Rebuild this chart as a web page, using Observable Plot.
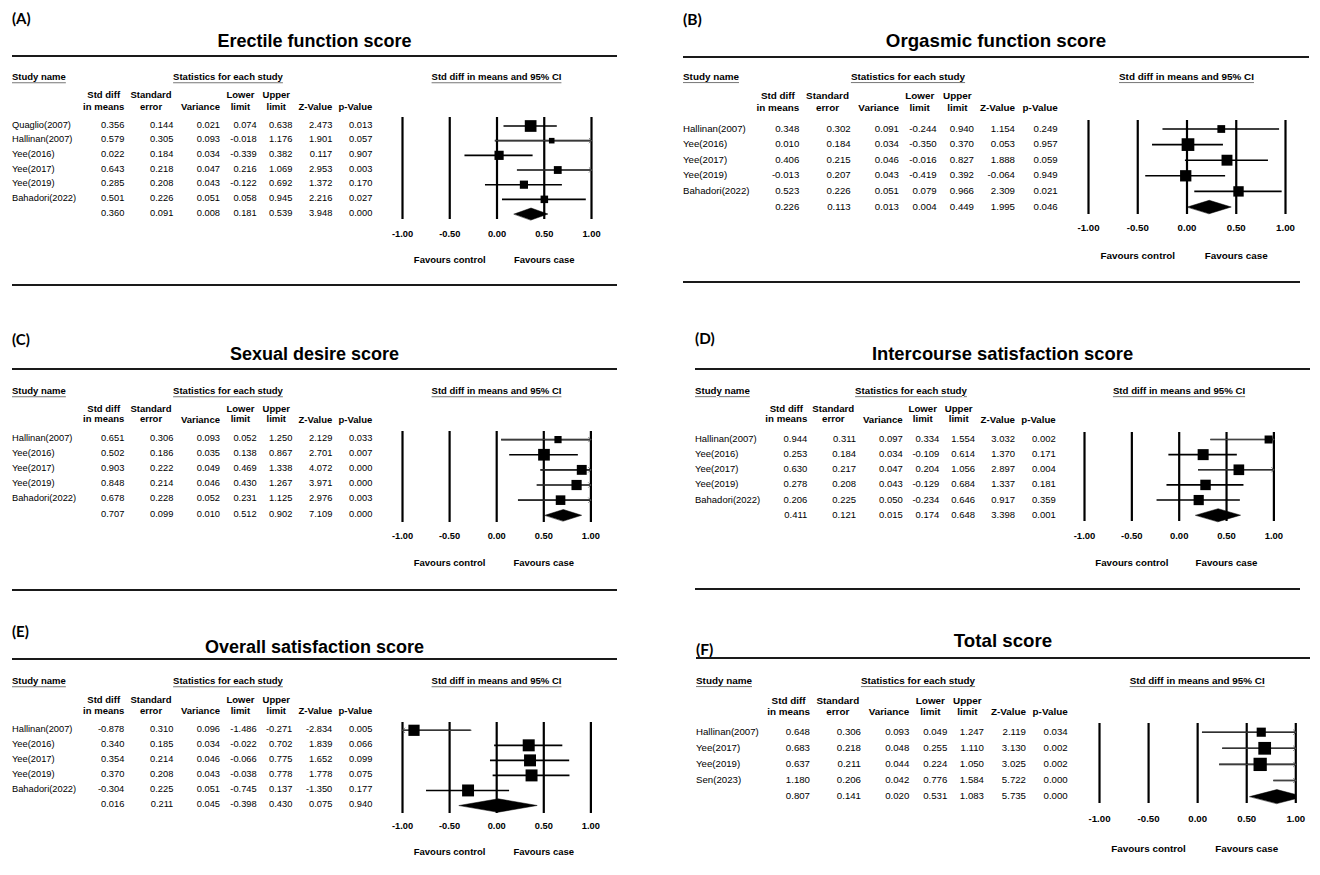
<!DOCTYPE html>
<html><head><meta charset="utf-8">
<script src="https://cdn.jsdelivr.net/npm/d3@7"></script>
<script src="https://cdn.jsdelivr.net/npm/@observablehq/plot@0.6"></script>
<style>
html,body{margin:0;padding:0;background:#fff;}
#root{position:relative;width:1320px;height:875px;overflow:hidden;font-family:"Liberation Sans",Arial,sans-serif;color:#000;}
.t{position:absolute;white-space:nowrap;line-height:1;}
.u{text-decoration:underline;text-decoration-color:#777;text-underline-offset:2px;}
.rule{position:absolute;background:#1a1a1a;}
</style></head><body><div id="root"></div>
<script>
// ---------------- DATA ----------------
const panelLabels = ["(A)", "(B)", "(C)", "(D)", "(E)", "(F)"];
const panelTitles = ["Erectile function score", "Orgasmic function score", "Sexual desire score",
  "Intercourse satisfaction score", "Overall satisfaction score", "Total score"];
const columnHeaders = [["Std diff", "in means"], ["Standard", "error"], ["", "Variance"], ["Lower", "limit"],
  ["Upper", "limit"], ["", "Z-Value"], ["", "p-Value"]];
const studyNames = [
  ["Quaglio(2007)", "Hallinan(2007)", "Yee(2016)", "Yee(2017)", "Yee(2019)", "Bahadori(2022)"],
  ["Hallinan(2007)", "Yee(2016)", "Yee(2017)", "Yee(2019)", "Bahadori(2022)"],
  ["Hallinan(2007)", "Yee(2016)", "Yee(2017)", "Yee(2019)", "Bahadori(2022)"],
  ["Hallinan(2007)", "Yee(2016)", "Yee(2017)", "Yee(2019)", "Bahadori(2022)"],
  ["Hallinan(2007)", "Yee(2016)", "Yee(2017)", "Yee(2019)", "Bahadori(2022)"],
  ["Hallinan(2007)", "Yee(2017)", "Yee(2019)", "Sen(2023)"]];
// last entry of each list = pooled estimate
const stdDiff = [
  [0.356, 0.579, 0.022, 0.643, 0.285, 0.501, 0.360],
  [0.348, 0.010, 0.406, -0.013, 0.523, 0.226],
  [0.651, 0.502, 0.903, 0.848, 0.678, 0.707],
  [0.944, 0.253, 0.630, 0.278, 0.206, 0.411],
  [-0.878, 0.340, 0.354, 0.370, -0.304, 0.016],
  [0.648, 0.683, 0.637, 1.180, 0.807]];
const stdError = [
  [0.144, 0.305, 0.184, 0.218, 0.208, 0.226, 0.091],
  [0.302, 0.184, 0.215, 0.207, 0.226, 0.113],
  [0.306, 0.186, 0.222, 0.214, 0.228, 0.099],
  [0.311, 0.184, 0.217, 0.208, 0.225, 0.121],
  [0.310, 0.185, 0.214, 0.208, 0.225, 0.211],
  [0.306, 0.218, 0.211, 0.206, 0.141]];
const variance = [
  [0.021, 0.093, 0.034, 0.047, 0.043, 0.051, 0.008],
  [0.091, 0.034, 0.046, 0.043, 0.051, 0.013],
  [0.093, 0.035, 0.049, 0.046, 0.052, 0.010],
  [0.097, 0.034, 0.047, 0.043, 0.050, 0.015],
  [0.096, 0.034, 0.046, 0.043, 0.051, 0.045],
  [0.093, 0.048, 0.044, 0.042, 0.020]];
const lowerLimit = [
  [0.074, -0.018, -0.339, 0.216, -0.122, 0.058, 0.181],
  [-0.244, -0.350, -0.016, -0.419, 0.079, 0.004],
  [0.052, 0.138, 0.469, 0.430, 0.231, 0.512],
  [0.334, -0.109, 0.204, -0.129, -0.234, 0.174],
  [-1.486, -0.022, -0.066, -0.038, -0.745, -0.398],
  [0.049, 0.255, 0.224, 0.776, 0.531]];
const upperLimit = [
  [0.638, 1.176, 0.382, 1.069, 0.692, 0.945, 0.539],
  [0.940, 0.370, 0.827, 0.392, 0.966, 0.449],
  [1.250, 0.867, 1.338, 1.267, 1.125, 0.902],
  [1.554, 0.614, 1.056, 0.684, 0.646, 0.648],
  [-0.271, 0.702, 0.775, 0.778, 0.137, 0.430],
  [1.247, 1.110, 1.050, 1.584, 1.083]];
const zValue = [
  [2.473, 1.901, 0.117, 2.953, 1.372, 2.216, 3.948],
  [1.154, 0.053, 1.888, -0.064, 2.309, 1.995],
  [2.129, 2.701, 4.072, 3.971, 2.976, 7.109],
  [3.032, 1.370, 2.897, 1.337, 0.917, 3.398],
  [-2.834, 1.839, 1.652, 1.778, -1.350, 0.075],
  [2.119, 3.130, 3.025, 5.722, 5.735]];
const pValue = [
  [0.013, 0.057, 0.907, 0.003, 0.170, 0.027, 0.000],
  [0.249, 0.957, 0.059, 0.949, 0.021, 0.046],
  [0.033, 0.007, 0.000, 0.000, 0.003, 0.000],
  [0.002, 0.171, 0.004, 0.181, 0.359, 0.001],
  [0.005, 0.066, 0.099, 0.075, 0.177, 0.940],
  [0.034, 0.002, 0.002, 0.000, 0.000]];
// relative weights (%), estimated from the square sizes
const relWeight = [
  [31.3, 7.1, 19.3, 14.0, 15.3, 12.9],
  [10.5, 28.0, 20.7, 22.2, 18.7],
  [10.7, 28.4, 20.3, 21.6, 19.1],
  [12.5, 23.6, 22.2, 21.4, 20.3],
  [18.0, 20.6, 20.5, 20.5, 20.4],
  [13.8, 26.7, 29.1, 30.5]];
const xTicks = [-1, -0.5, 0, 0.5, 1];
const favourLabels = ["Favours control", "Favours case"];
const favourAt = [-0.5, 0.5];

// ---------------- LAYOUT (positions only) ----------------
const colsL = [124.3, 173.3, 220, 256.7, 292.3, 332.3, 372.3];
const layout = [
  {x0: 12, s: 1, labelY: 18, titleY: 40.5, ruleY: 56, ruleX2: 617, headY: 76.5, hdrY: [94.5, 106.5],
   rowY0: 125.5, rowStep: 14.67, cols: colsL, statsCx: 228, xm1: 402, xp1: 591, vTop: 117, vBot: 219,
   tickY: 233.3, favY: 259, bottomRuleY: 285, bottomRuleX2: 617, sqMax: 11.7, dh: 6},
  {x0: 683, s: 1.04, labelY: 20, titleY: 41, ruleY: 57, ruleX2: 1309, headY: 77, hdrY: [96, 107.5],
   rowY0: 128.5, rowStep: 15.6, cols: [799.3, 850.7, 899, 936.7, 974, 1015, 1057.7], statsCx: 908,
   xm1: 1088, xp1: 1285, vTop: 120, vBot: 214, tickY: 227.7, favY: 255, bottomRuleY: 281.7, bottomRuleX2: 1300,
   sqMax: 12.7, dh: 6.7},
  {x0: 12, s: 1, labelY: 339, titleY: 354, ruleY: 369.3, ruleX2: 617, headY: 390.5, hdrY: [409, 419.7],
   rowY0: 438.8, rowStep: 15.14, cols: colsL, statsCx: 228, xm1: 402.3, xp1: 590.7, vTop: 430.7, vBot: 521.7,
   tickY: 535, favY: 561.7, bottomRuleY: 590, bottomRuleX2: 617, sqMax: 11.7, dh: 5.8},
  {x0: 695, s: 1.02, labelY: 339, titleY: 354, ruleY: 369, ruleX2: 1310, headY: 390.5, hdrY: [409, 419.7],
   rowY0: 439, rowStep: 15.14, cols: [807.3, 856, 902.7, 939.3, 975, 1015, 1055.7], statsCx: 911,
   xm1: 1084.3, xp1: 1273.7, vTop: 432, vBot: 521, tickY: 535, favY: 562, bottomRuleY: 589, bottomRuleX2: 1300,
   sqMax: 11, dh: 6.5},
  {x0: 12, s: 1, labelY: 631, titleY: 647, ruleY: 659.3, ruleX2: 617, headY: 680.5, hdrY: [699.5, 710.5],
   rowY0: 729.5, rowStep: 15.04, cols: colsL, statsCx: 228, xm1: 402.3, xp1: 590.7, vTop: 721.7, vBot: 812.7,
   tickY: 825, favY: 851, bottomRuleY: null, sqMax: 12, dh: 6.7},
  {x0: 696, s: 1.04, labelY: 650, titleY: 641, ruleY: 658.3, ruleX2: 1310, headY: 681, hdrY: [700.5, 712],
   rowY0: 732, rowStep: 16.1, cols: [810, 861, 909.3, 947.3, 984, 1026, 1067.7], statsCx: 918,
   xm1: 1099, xp1: 1295.3, vTop: 723.3, vBot: 803.3, tickY: 819, favY: 848.3, bottomRuleY: null, sqMax: 13.6, dh: 7}
];
const hdrShift = [0, -1.7, 0, -2.3, -2.3, 0, 0];

const root = document.getElementById("root");
function addText(str, x, y, o = {}) {
  const el = document.createElement("div");
  el.className = "t" + (o.underline ? " u" : "");
  el.textContent = str;
  el.style.left = x + "px";
  el.style.top = y + "px";
  el.style.fontSize = (o.size || 9.3) + "px";
  if (o.weight) el.style.fontWeight = o.weight;
  if (o.family) el.style.fontFamily = o.family;
  const tx = o.anchor === "middle" ? "-50%" : o.anchor === "end" ? "-100%" : "0";
  el.style.transform = `translate(${tx}, -50%)`;
  root.appendChild(el);
  return el;
}
function addRule(x1, x2, y) {
  const el = document.createElement("div");
  el.className = "rule";
  el.style.left = x1 + "px";
  el.style.width = (x2 - x1) + "px";
  el.style.top = (y - 1.1) + "px";
  el.style.height = "2.3px";
  root.appendChild(el);
}
const fmt = v => v.toFixed(3);

layout.forEach((L, p) => {
  const s = L.s;
  const reg = 9.3 * s, bold = 9.5 * s;
  addText(panelLabels[p], L.x0, L.labelY, {size: 15 * s, weight: 700, family: "Lato, 'Open Sans', sans-serif"});
  addText(panelTitles[p], (L.x0 + L.ruleX2) / 2, L.titleY, {size: 18 * s, weight: 700, anchor: "middle"});
  addRule(L.x0, L.ruleX2, L.ruleY);
  if (L.bottomRuleY != null) addRule(L.x0, L.bottomRuleX2, L.bottomRuleY);
  addText("Study name", L.x0, L.headY, {size: bold, weight: 700, underline: true});
  addText("Statistics for each study", L.statsCx, L.headY, {size: bold, weight: 700, underline: true, anchor: "middle"});
  addText("Std diff in means and 95% CI", (L.xm1 + L.xp1) / 2, L.headY, {size: bold, weight: 700, underline: true, anchor: "middle"});
  // column headers
  const lh = L.hdrY[1] - L.hdrY[0];
  columnHeaders.forEach((h, c) => {
    const x = L.cols[c] + hdrShift[c] * s;
    if (h[0] === "") {
      addText(h[1], x, L.hdrY[1], {size: bold, weight: 700, anchor: "end"});
    } else {
      const el = document.createElement("div");
      el.className = "t";
      el.style.left = x + "px";
      el.style.top = (L.hdrY[0] - lh / 2) + "px";
      el.style.lineHeight = lh + "px";
      el.style.fontSize = bold + "px";
      el.style.fontWeight = 700;
      el.style.textAlign = "center";
      el.style.transform = "translate(-100%, 0)";
      h.forEach(line => { const d = document.createElement("div"); d.textContent = line; el.appendChild(d); });
      root.appendChild(el);
    }
  });
  // table rows
  const cols = [stdDiff[p], stdError[p], variance[p], lowerLimit[p], upperLimit[p], zValue[p], pValue[p]];
  const nRows = stdDiff[p].length;
  for (let i = 0; i < nRows; i++) {
    const y = L.rowY0 + i * L.rowStep;
    if (i < studyNames[p].length) addText(studyNames[p][i], L.x0, y, {size: reg});
    cols.forEach((arr, c) => addText(fmt(arr[i]), L.cols[c], y, {size: reg, anchor: "end"}));
  }

  // ---------- forest plot ----------
  const n = studyNames[p].length;
  const rows = studyNames[p].map((name, i) => ({
    i, name, smd: stdDiff[p][i], lo: lowerLimit[p][i], hi: upperLimit[p][i], w: relWeight[p][i]
  }));
  const pooled = {i: n, smd: stdDiff[p][n], lo: lowerLimit[p][n], hi: upperLimit[p][n]};
  const hh = L.dh / L.rowStep;
  const dia = [];
  if (pooled.lo < -1) {
    const f = (-1 - pooled.lo) / (pooled.smd - pooled.lo);
    dia.push({x: -1, y: n + hh * f});
    dia.push({x: -1, y: n - hh * f});
  } else dia.push({x: pooled.lo, y: n});
  dia.push({x: pooled.smd, y: n - hh});
  if (pooled.hi > 1) {
    const f = (pooled.hi - 1) / (pooled.hi - pooled.smd);
    dia.push({x: 1, y: n - hh * f});
    dia.push({x: 1, y: n + hh * f});
  } else dia.push({x: pooled.hi, y: n});
  dia.push({x: pooled.smd, y: n + hh});

  const svgLeft = L.xm1 - 45, svgRight = L.xp1 + 45;
  const svgTop = L.vTop - 12, svgBottom = L.favY + 12;
  const clampX = v => Math.max(-1, Math.min(1, v));
  const maxW = d3.max(relWeight[p]);
  const chart = Plot.plot({
    width: svgRight - svgLeft,
    height: svgBottom - svgTop,
    marginLeft: L.xm1 - svgLeft,
    marginRight: svgRight - L.xp1,
    marginTop: L.vTop - svgTop,
    marginBottom: svgBottom - L.vBot,
    style: {fontFamily: "'Liberation Sans', Arial, sans-serif", overflow: "visible", background: "transparent"},
    x: {domain: [-1, 1], axis: null},
    y: {domain: [0, 1], range: [L.rowY0 - svgTop, L.rowY0 + L.rowStep - svgTop], axis: null},
    r: {type: "sqrt", domain: [0, maxW], range: [0, L.sqMax / Math.sqrt(Math.PI)]},
    marks: [
      Plot.ruleX(xTicks, {stroke: "#000", strokeWidth: 2.2}),
      Plot.ruleY(rows, {y: "i", x1: d => clampX(d.lo), x2: d => clampX(d.hi), stroke: "#000", strokeWidth: 1.6}),
      Plot.arrow(rows.filter(d => d.hi > 1), {x1: d => clampX(d.lo), y1: "i", x2: d => 1, y2: "i",
        headLength: 6, headAngle: 90, stroke: "#555", strokeWidth: 0.8}),
      Plot.arrow(rows.filter(d => d.lo < -1), {x1: d => clampX(d.hi), y1: "i", x2: d => -1, y2: "i",
        headLength: 6, headAngle: 90, stroke: "#555", strokeWidth: 0.8}),
      Plot.dot(rows.filter(d => d.smd >= -1 && d.smd <= 1), {x: "smd", y: "i", r: "w", symbol: "square", fill: "#000"}),
      Plot.line(dia, {x: "x", y: "y", curve: "linear-closed", fill: "#000", stroke: "#000", strokeWidth: 0.5}),
      Plot.text(xTicks, {x: d => d, text: d => d.toFixed(2), frameAnchor: "bottom", lineAnchor: "middle",
        dy: L.tickY - L.vBot, fontWeight: "bold", fontSize: 9.3 * s, fill: "#000"}),
      Plot.text(favourLabels, {x: (d, i) => favourAt[i], text: d => d, frameAnchor: "bottom", lineAnchor: "middle",
        dy: L.favY - L.vBot, fontWeight: "bold", fontSize: 9.5 * s, fill: "#000"})
    ]
  });
  chart.style.position = "absolute";
  chart.style.left = svgLeft + "px";
  chart.style.top = svgTop + "px";
  chart.style.maxWidth = "none";
  root.appendChild(chart);
});
</script>
</body></html>
